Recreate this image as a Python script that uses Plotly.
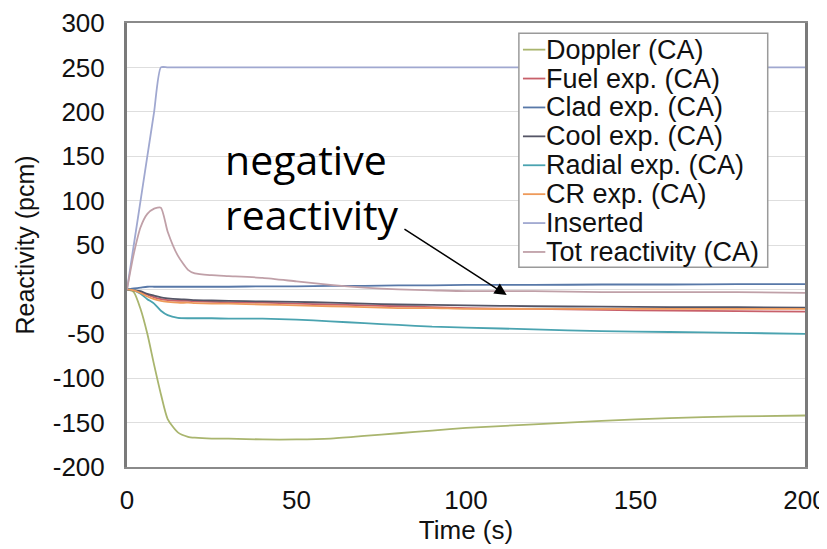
import plotly.graph_objects as go

# ---- data ----
time_s = [0, 2, 4, 6, 8, 10, 12, 15, 18, 20, 25, 30, 40, 50, 60, 70, 80, 90, 100, 120, 140, 160, 180, 200]

doppler = [0, -3, -22, -50, -85, -118, -146, -161, -166, -167, -168, -168, -169, -169, -168, -165, -162, -159, -156, -152, -148, -145, -143, -142]
fuel = [0, -1, -3, -6, -9, -11, -12, -13, -13, -13.5, -14, -14.5, -15, -16, -17, -18, -19, -20, -21, -22, -23, -24, -24.5, -25]
clad = [0, 1, 2, 3, 3, 3, 3, 3, 3, 3, 3, 3, 3.5, 3.5, 4, 4, 4.5, 4.5, 5, 5, 5.5, 5.5, 6, 6]
cool = [0, -1, -2, -5, -7, -9, -10, -11, -11.5, -12, -12.5, -13, -13.5, -14, -15, -16, -17, -17.5, -18, -19, -19.5, -20, -20, -20.5]
radial = [0, -1, -5, -11, -16, -24, -29, -32, -32.5, -32.5, -32.5, -33, -33, -34, -36, -38, -40, -42, -43, -45, -47, -48, -49, -50]
cr = [0, -1, -4, -8, -11, -13, -14, -15, -15, -15.5, -16, -16, -17, -18, -19, -20, -21, -21, -22, -22, -22, -22, -22, -22]
inserted = [0, 50, 100, 150, 200, 250, 250, 250, 250, 250, 250, 250, 250, 250, 250, 250, 250, 250, 250, 250, 250, 250, 250, 250]
total = [0, 40, 70, 85, 91, 92, 65, 38, 22, 18, 16, 15, 13, 9, 5, 2, 0, -1, -2, -2, -3, -3, -3, -4]

names = ["Doppler (CA)", "Fuel exp. (CA)", "Clad exp. (CA)", "Cool exp. (CA)",
         "Radial exp. (CA)", "CR exp. (CA)", "Inserted", "Tot reactivity (CA)"]
series = [doppler, fuel, clad, cool, radial, cr, inserted, total]
colors = ["#a9b56e", "#c8606a", "#5878a8", "#555566", "#4aa3b0", "#ee9a5a", "#a0a8d0", "#c0a0a8"]

x_ticks = [0, 50, 100, 150, 200]
y_ticks = [300, 250, 200, 150, 100, 50, 0, -50, -100, -150, -200]
y_tick_labels = ["300", "250", "200", "150", "100", "50", "0", "-50", "-100", "-150", "-200"]

fig = go.Figure()
for name, vals, col in zip(names, series, colors):
    fig.add_trace(go.Scatter(x=time_s, y=vals, name=name, mode="lines", showlegend=False,
                             line=dict(color=col, width=1.8, shape="spline", smoothing=0.6)))

font_main = "Liberation Sans, Arial, sans-serif"

fig.update_layout(
    width=827, height=549,
    margin=dict(l=119, r=30, t=15, b=90),
    paper_bgcolor="white", plot_bgcolor="white",
    font=dict(family=font_main, color="#111111", size=26),
    showlegend=False,
    xaxis=dict(range=[0, 200], tickvals=x_ticks, showgrid=False, zeroline=False,
               showline=True, linecolor="#8a8a8a", linewidth=2, mirror=True,
               ticks="", tickfont=dict(size=26), ticklabelstandoff=9, automargin=False,
               title=dict(text="Time (s)", font=dict(size=26), standoff=0)),
    yaxis=dict(range=[-200, 300], tickvals=y_ticks, ticktext=y_tick_labels,
               showgrid=True, gridcolor="#dedede", gridwidth=1, zeroline=False,
               showline=True, linecolor="#7a7a7a", linewidth=3, mirror=True,
               ticks="", tickfont=dict(size=26), ticklabelstandoff=14, automargin=False,
               title=dict(text="Reactivity (pcm)", font=dict(size=25), standoff=12)),
)

# manual legend (box + line samples + labels), placed in paper coordinates
leg_left, leg_right, leg_top, leg_bottom = 0.578, 0.945, 0.977, 0.450
row0, row_step = 0.940, 0.0651
fig.add_shape(type="rect", xref="paper", yref="paper", x0=leg_left, x1=leg_right,
              y0=leg_bottom, y1=leg_top, line=dict(color="#9a9a9a", width=1.5),
              fillcolor="white", layer="above")
for i, (name, col) in enumerate(zip(names, colors)):
    yy = row0 - i * row_step
    fig.add_shape(type="line", xref="paper", yref="paper", x0=0.584, x1=0.617,
                  y0=yy, y1=yy, line=dict(color=col, width=1.8), layer="above")
    fig.add_annotation(x=0.615, y=yy, xref="paper", yref="paper", text=name,
                       showarrow=False, xanchor="left", yanchor="middle",
                       font=dict(family=font_main, size=27, color="#111111"))

# annotation text
fig.add_annotation(x=28.3, y=146.6, xref="x", yref="y", text="negative",
                   showarrow=False, xanchor="left", yanchor="middle",
                   font=dict(family="Open Sans, sans-serif", size=41, color="#000000"))
fig.add_annotation(x=28.3, y=85.4, xref="x", yref="y", text="reactivity",
                   showarrow=False, xanchor="left", yanchor="middle",
                   font=dict(family="Open Sans, sans-serif", size=41, color="#000000"))
# arrow
fig.add_annotation(x=112, y=-6.3, xref="x", yref="y", ax=81.4, ay=69, axref="x", ayref="y",
                   text="", showarrow=True, arrowhead=2, arrowsize=1.6, arrowwidth=1.5,
                   arrowcolor="#000000")

fig.write_html("out.html")
